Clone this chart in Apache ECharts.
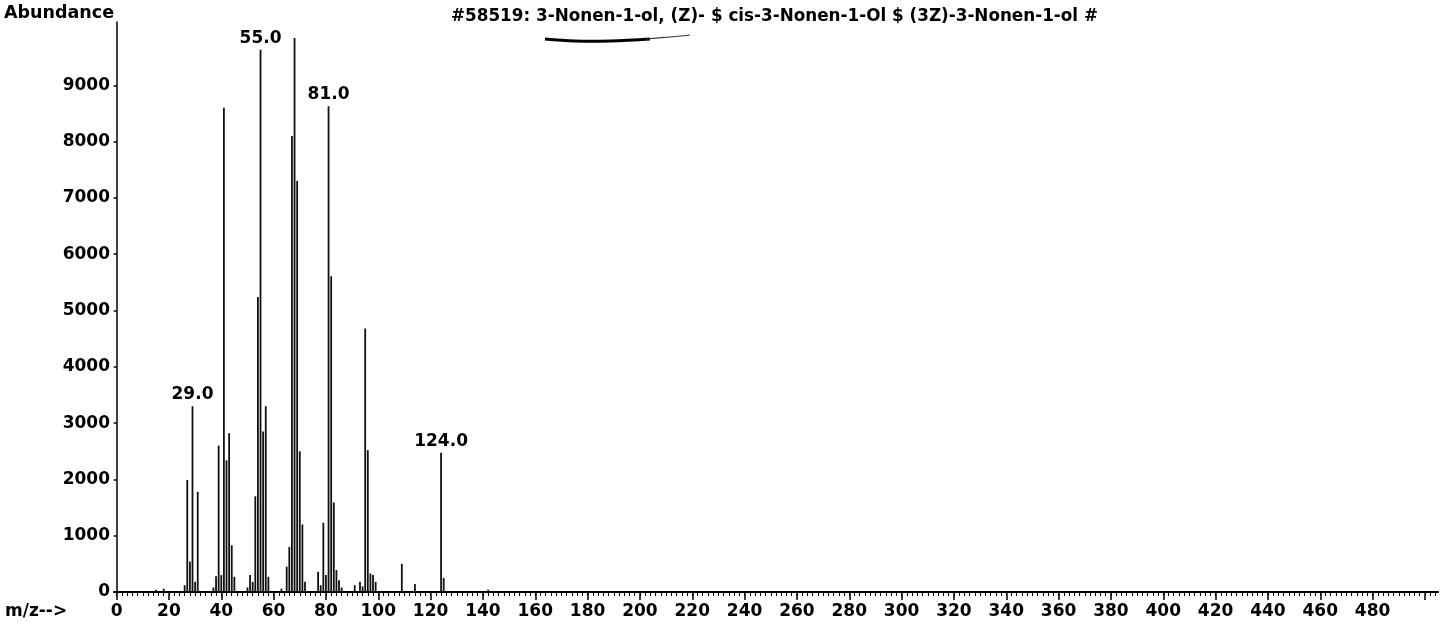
<!DOCTYPE html>
<html>
<head>
<meta charset="utf-8">
<script src="https://cdn.jsdelivr.net/npm/echarts@6/dist/echarts.min.js"></script>
<style>
html,body{margin:0;padding:0;background:#fff;}
#chart{width:1451px;height:635px;}
</style>
</head>
<body>
<div id="chart"></div>
<script>
// m/z values of the peaks
const mz = [15, 18, 26, 27, 28, 29, 30, 31, 37, 38, 39, 40, 41, 42, 43, 44, 45,
  50, 51, 52, 53, 54, 55, 56, 57, 58, 63, 65, 66, 67, 68, 69, 70, 71, 72,
  77, 78, 79, 80, 81, 82, 83, 84, 85, 86, 91, 93, 94, 95, 96, 97, 98, 99,
  109, 114, 124, 125, 142];
// abundance of each peak
const abundance = [40, 60, 120, 1990, 540, 3300, 180, 1780, 80, 280, 2600, 300, 8600, 2340, 2820, 830, 270,
  80, 300, 180, 1700, 5240, 9630, 2850, 3300, 270, 60, 450, 800, 8100, 9840, 7300, 2500, 1200, 180,
  360, 120, 1230, 300, 8630, 5610, 1590, 390, 210, 80, 120, 180, 100, 4680, 2520, 330, 300, 180,
  500, 140, 2475, 250, 40];
// peaks carrying an m/z label
const labeledPeaks = [29, 55, 81, 124];
// tick labels
const xTickLabels = [0, 20, 40, 60, 80, 100, 120, 140, 160, 180, 200, 220, 240, 260, 280, 300, 320, 340, 360, 380, 400, 420, 440, 460, 480];
const xMajorTicks = xTickLabels.concat([500]);
const yTickLabels = [0, 1000, 2000, 3000, 4000, 5000, 6000, 7000, 8000, 9000];
const titleText = '#58519: 3-Nonen-1-ol, (Z)- $ cis-3-Nonen-1-Ol $ (3Z)-3-Nonen-1-ol #';

const xMinorTicks = [];
for (let v = 0; v <= 504; v += 2) xMinorTicks.push(v);

const FONT = 'DejaVu Sans';
const chart = echarts.init(document.getElementById('chart'), null, {renderer: 'canvas'});

const data = mz.map((m, i) => ({
  value: [m, abundance[i]],
  label: {show: labeledPeaks.includes(m)}
}));

chart.setOption({
  animation: false,
  backgroundColor: '#fff',
  title: {
    text: titleText,
    left: 446, top: 3,
    textStyle: {fontFamily: FONT, fontWeight: 'bold', fontSize: 16.8, color: '#000'}
  },
  grid: {left: 114, right: 13, top: 22, bottom: 43, containLabel: false},
  xAxis: [{
    type: 'value', min: -1, max: 505,
    axisLine: {show: true, onZero: false, lineStyle: {color: '#000', width: 2}},
    axisTick: {show: true, length: 8, customValues: xMajorTicks, lineStyle: {color: '#000', width: 1.5}},
    axisLabel: {show: true, customValues: xTickLabels, margin: 11,
      formatter: v => String(v),
      fontFamily: FONT, fontWeight: 'bold', fontSize: 17, color: '#000'},
    splitLine: {show: false}
  }, {
    type: 'value', min: -1, max: 505, position: 'bottom',
    axisLine: {show: false},
    axisTick: {show: true, length: 4, customValues: xMinorTicks, lineStyle: {color: '#000', width: 1}},
    axisLabel: {show: false},
    splitLine: {show: false}
  }],
  yAxis: {
    type: 'value', min: 0, max: 10125,
    axisLine: {show: true, lineStyle: {color: '#000', width: 1.5}},
    axisTick: {show: true, length: 3, customValues: yTickLabels, lineStyle: {color: '#000', width: 1.5}},
    axisLabel: {show: true, customValues: yTickLabels, margin: 4,
      formatter: v => String(v),
      fontFamily: FONT, fontWeight: 'bold', fontSize: 17, color: '#000'},
    splitLine: {show: false}
  },
  series: [{
    type: 'bar',
    xAxisIndex: 0,
    barWidth: 1.8,
    itemStyle: {color: '#111'},
    label: {
      position: 'top', distance: 3,
      fontFamily: FONT, fontWeight: 'bold', fontSize: 17, color: '#000',
      formatter: p => p.value[0].toFixed(1)
    },
    data: data
  }],
  graphic: [
    {type: 'text', left: 4, top: 4,
      style: {text: 'Abundance', font: 'bold 17.5px "DejaVu Sans"', fill: '#000'}},
    {type: 'text', left: 5, top: 603,
      style: {text: 'm/z-->', font: 'bold 17px "DejaVu Sans"', fill: '#000'}},
    {type: 'polyline', shape: {points: [[545, 39], [575, 41], [610, 41], [650, 39]], smooth: 0.4},
      style: {stroke: '#000', lineWidth: 3, fill: null}},
    {type: 'polyline', shape: {points: [[645, 39], [670, 37], [690, 35]], smooth: 0.3},
      style: {stroke: '#333', lineWidth: 1.2, fill: null}}
  ]
});
</script>
</body>
</html>
